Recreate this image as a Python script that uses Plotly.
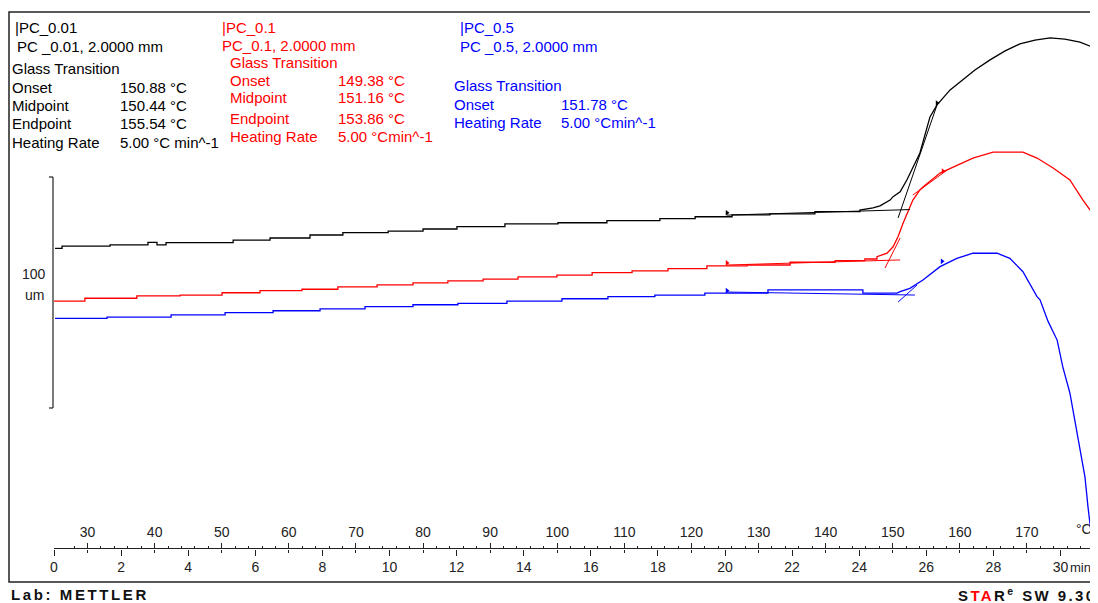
import plotly.graph_objects as go

# ---------------- data (time in min, probe displacement in um) ----------------
black_t = [0.03, 0.24, 0.24, 1.67, 1.67, 2.80, 2.80, 3.07, 3.07, 3.34, 3.34, 5.34, 5.34, 6.44, 6.44,
           7.63, 7.63, 8.61, 8.61, 9.96, 9.96, 11.00, 11.00, 12.01, 12.01, 13.44, 13.44, 15.02, 15.02,
           16.48, 16.48, 18.06, 18.06, 19.11, 19.11, 20.21, 20.21, 21.34, 21.34, 22.68, 22.68, 24.02, 24.02,
           24.41, 24.62, 24.92, 25.01, 25.22, 25.42, 25.81, 26.11, 26.32, 26.71, 27.09, 27.45, 27.90,
           28.35, 28.79, 29.24, 29.69, 30.13, 30.58, 31.03]
black_u = [69.1, 69.1, 70.1, 70.1, 70.6, 70.6, 71.7, 71.7, 70.6, 70.6, 71.6, 71.6, 72.7, 72.7, 73.6,
           73.6, 74.9, 74.9, 75.9, 75.9, 76.6, 76.6, 77.5, 77.5, 78.5, 78.5, 79.7, 79.7, 80.2,
           80.2, 81.1, 81.1, 82.0, 82.0, 82.8, 82.8, 83.6, 83.6, 84.0, 84.0, 85.0, 85.0, 85.7,
           86.6, 87.5, 90.0, 91.5, 93.6, 98.7, 110.4, 126.0, 131.2, 137.7, 142.0, 146.3, 150.7,
           154.6, 157.6, 159.3, 160.2, 159.7, 158.4, 155.8]

red_t = [0.0, 0.92, 0.92, 2.47, 2.47, 3.76, 3.76, 5.01, 5.01, 6.14, 6.14, 7.39, 7.39, 8.46, 8.46,
         9.63, 9.63, 10.70, 10.70, 11.74, 11.74, 12.79, 12.79, 13.83, 13.83, 14.99, 14.99, 16.04, 16.04,
         17.23, 17.23, 18.30, 18.30, 19.46, 19.46, 20.66, 20.66, 21.94, 21.94, 23.28, 23.28, 24.17, 24.17,
         24.53, 24.53, 24.83, 25.01, 25.16, 25.31, 25.60, 25.81, 25.90, 26.41, 26.91, 27.39, 27.99,
         28.88, 29.30, 29.78, 30.28, 30.67, 31.03]
red_u = [46.3, 46.3, 47.5, 47.5, 48.5, 48.5, 48.9, 48.9, 49.9, 49.9, 50.8, 50.8, 51.4, 51.4, 52.4,
         52.4, 53.3, 53.3, 54.2, 54.2, 55.0, 55.0, 55.8, 55.8, 56.8, 56.8, 57.5, 57.5, 58.6,
         58.6, 59.4, 59.4, 60.3, 60.3, 61.5, 61.5, 61.9, 61.9, 63.1, 63.1, 63.8, 63.8, 64.5,
         64.5, 65.5, 67.0, 69.8, 74.2, 80.1, 90.0, 94.4, 95.7, 101.7, 105.2, 108.2, 110.8,
         110.8, 108.2, 103.9, 98.7, 90.0, 82.7]

blue_t = [0.03, 1.58, 1.58, 3.49, 3.49, 5.10, 5.10, 6.53, 6.53, 7.93, 7.93, 9.27, 9.27, 10.70, 10.70,
          12.04, 12.04, 13.50, 13.50, 15.14, 15.14, 16.51, 16.51, 17.91, 17.91, 19.40, 19.40, 21.28, 21.28,
          24.11, 24.11, 25.13, 25.22, 25.51, 25.90, 26.41, 26.91, 27.39, 28.11, 28.49, 28.88, 29.30,
          29.39, 29.63, 29.90, 30.07, 30.28, 30.43, 30.58, 30.73, 30.82, 30.94, 31.03, 31.09]
blue_u = [38.8, 38.8, 39.3, 39.3, 40.3, 40.3, 41.3, 41.3, 42.1, 42.1, 42.9, 42.9, 43.9, 43.9, 44.7,
          44.7, 45.3, 45.3, 46.3, 46.3, 47.3, 47.3, 48.2, 48.2, 48.9, 48.9, 49.7, 49.7, 51.1,
          51.1, 49.7, 49.7, 50.4, 51.8, 55.4, 61.2, 64.8, 67.0, 67.0, 64.8, 59.0, 48.2,
          46.8, 37.5, 29.4, 17.7, 6.5, -5.2, -18.2, -29.9, -42.9, -57.1, -70.1, -75.8]

# evaluation construction lines (baseline / tangents), None separates segments
black_eval_t = [20.06, 25.51, None, 25.16, 26.32]
black_eval_u = [83.5, 85.9, None, 82.3, 131.2]
red_eval_t = [20.06, 25.22, None, 24.77, 25.22, None, 25.60, 26.62]
red_eval_u = [61.9, 64.1, None, 60.6, 73.6, None, 92.2, 103.0]
blue_eval_t = [20.06, 25.66, None, 25.16, 25.72]
blue_eval_u = [50.2, 48.9, None, 45.9, 53.2]

# evaluation limit flags (start / end of each evaluation)
black_flag_t = [20.06, 26.32]
black_flag_u = [84.5, 132.0]
red_flag_t = [20.06, 26.50]
red_flag_u = [62.8, 102.5]
blue_flag_t = [20.06, 26.47]
blue_flag_u = [50.8, 63.5]

# axis ticks
time_ticks = list(range(0, 31, 2))
time_ticktext = [str(v) for v in time_ticks]
time_minor = list(range(1, 30, 2))
temp_ticks = list(range(30, 171, 10))
temp_minor = [v for v in range(28, 179, 2) if v % 10]
T_START = 25.0      # degC at t = 0
RATE = 5.0          # degC / min
SCALE_BAR_UM = 100

# text blocks
black_lines = ["|PC_0.01", "PC _0.01, 2.0000 mm", "Glass Transition"]
black_keys = ["Onset", "Midpoint", "Endpoint", "Heating Rate"]
black_vals = ["150.88 °C", "150.44 °C", "155.54 °C", "5.00 °C min^-1"]
red_lines = ["|PC_0.1", "PC_0.1, 2.0000 mm", "Glass Transition"]
red_keys = ["Onset", "Midpoint", "Endpoint", "Heating Rate"]
red_vals = ["149.38 °C", "151.16 °C", "153.86 °C", "5.00 °Cmin^-1"]
blue_lines = ["|PC_0.5", "PC _0.5, 2.0000 mm", "Glass Transition"]
blue_keys = ["Onset", "Heating Rate"]
blue_vals = ["151.78 °C", "5.00 °Cmin^-1"]

# ---------------- layout geometry ----------------
PAGE_OFF = 8                      # default body margin of the html page
W, H = 1098 - PAGE_OFF, 603 - PAGE_OFF
X0_PX, PX_PER_MIN = 54.0, 33.55   # t=0 position (page px), pixels per minute
Y0_PX, PX_PER_UM = 408.0, 2.31    # u=0 position (page px), pixels per um
AXIS_Y = 548.5
FONT = "Liberation Sans, Arial, sans-serif"
BLACK, RED, BLUE = "#000000", "#ff0000", "#0000ff"
INK = "#222222"

t_lo = (PAGE_OFF - X0_PX) / PX_PER_MIN
t_hi = (PAGE_OFF + W - X0_PX) / PX_PER_MIN
u_lo = (Y0_PX - PAGE_OFF - H) / PX_PER_UM
u_hi = (Y0_PX - PAGE_OFF) / PX_PER_UM


def px(x):
    return (x - PAGE_OFF) / W


def py(y):
    return 1 - (y - PAGE_OFF) / H


fig = go.Figure()
for t, u, c in [(black_t, black_u, BLACK), (red_t, red_u, RED), (blue_t, blue_u, BLUE)]:
    fig.add_trace(go.Scatter(x=t, y=u, mode="lines", line=dict(color=c, width=1.3),
                             showlegend=False, hoverinfo="skip"))
for t, u, c in [(black_eval_t, black_eval_u, BLACK), (red_eval_t, red_eval_u, RED),
                (blue_eval_t, blue_eval_u, BLUE)]:
    fig.add_trace(go.Scatter(x=t, y=u, mode="lines", line=dict(color=c, width=1),
                             connectgaps=False, showlegend=False, hoverinfo="skip"))
for t, u, c in [(black_flag_t, black_flag_u, BLACK), (red_flag_t, red_flag_u, RED),
                (blue_flag_t, blue_flag_u, BLUE)]:
    fig.add_trace(go.Scatter(x=t, y=u, mode="markers",
                             marker=dict(symbol="triangle-right", size=5, color=c, line=dict(width=0)),
                             showlegend=False, hoverinfo="skip"))
fig.add_trace(go.Scatter(x=[T_START], y=[None], xaxis="x2", mode="lines", showlegend=False,
                         hoverinfo="skip"))

ann = []


def txt(x, y, s, color, size=15, anchor="left"):
    ann.append(dict(x=px(x), y=py(y), xref="paper", yref="paper", text=s, showarrow=False,
                    xanchor=anchor, yanchor="middle", font=dict(family=FONT, size=size, color=color)))


# black block
txt(13, 28, black_lines[0], BLACK)
txt(15, 46, black_lines[1], BLACK)
txt(10, 69, black_lines[2], BLACK)
for i, (k, v) in enumerate(zip(black_keys, black_vals)):
    txt(10, 88 + 18 * i, k, BLACK)
    txt(118, 88 + 18 * i, v, BLACK)
# red block
txt(220, 28, red_lines[0], RED)
txt(220, 45, red_lines[1], RED)
txt(228, 62, red_lines[2], RED)
for k, v, yy in zip(red_keys, red_vals, [80, 97, 118, 136]):
    txt(228, yy, k, RED)
    txt(336, yy, v, RED)
# blue block
txt(458, 28, blue_lines[0], BLUE)
txt(458, 46, blue_lines[1], BLUE)
txt(452, 86, blue_lines[2], BLUE)
for i, (k, v) in enumerate(zip(blue_keys, blue_vals)):
    txt(452, 105 + 18 * i, k, BLUE)
    txt(559, 105 + 18 * i, v, BLUE)

# scale bar label
txt(34, 274, str(SCALE_BAR_UM), INK, size=14, anchor="center")
txt(34, 295, "um", INK, size=14, anchor="center")
# axis unit labels
txt(1068, 567, "min", INK, size=13)
txt(1084, 529, "°C", INK, size=14, anchor="center")
# footer
txt(9, 594, "<b><span style='letter-spacing:2.6px'>Lab: METTLER</span></b>", "#111111", size=15)
txt(1098, 594, "<b><span style='letter-spacing:2.4px'>S<span style='color:#ff0000'>TA</span>R"
               "<sup>e</sup> SW 9.30</span></b>", "#111111", size=15, anchor="right")

shapes = [
    # frame
    dict(type="rect", xref="paper", yref="paper", x0=px(9), x1=px(1110), y0=py(582), y1=py(12),
         line=dict(color=INK, width=1.5)),
    # axis line
    dict(type="line", xref="x", yref="paper", x0=0, x1=31.05, y0=py(AXIS_Y), y1=py(AXIS_Y),
         line=dict(color=INK, width=1.2)),
    # scale bar
    dict(type="line", xref="paper", yref="y", x0=px(53), x1=px(53), y0=0, y1=SCALE_BAR_UM,
         line=dict(color=INK, width=1.2)),
    dict(type="line", xref="paper", yref="y", x0=px(49), x1=px(53), y0=0, y1=0,
         line=dict(color=INK, width=1.2)),
    dict(type="line", xref="paper", yref="y", x0=px(49), x1=px(53), y0=SCALE_BAR_UM, y1=SCALE_BAR_UM,
         line=dict(color=INK, width=1.2)),
]

fig.update_layout(
    width=W, height=H, margin=dict(l=0, r=0, t=0, b=0),
    paper_bgcolor="white", plot_bgcolor="white", showlegend=False,
    font=dict(family=FONT, size=14, color=INK),
    xaxis=dict(range=[t_lo, t_hi], anchor="free", position=py(AXIS_Y), side="bottom",
               showline=False, showgrid=False, zeroline=False,
               ticks="outside", ticklen=6, tickwidth=1, tickcolor=INK,
               tickmode="array", tickvals=time_ticks, ticktext=time_ticktext,
               tickfont=dict(family=FONT, size=14, color=INK),
               minor=dict(tickmode="array", tickvals=time_minor, ticks="outside", ticklen=3,
                          tickcolor=INK, showgrid=False)),
    xaxis2=dict(range=[T_START + RATE * t_lo, T_START + RATE * t_hi], overlaying="x",
                anchor="free", position=py(AXIS_Y), side="top",
                showline=False, showgrid=False, zeroline=False,
                ticks="outside", ticklen=6, tickwidth=1, tickcolor=INK,
                tickmode="array", tickvals=temp_ticks,
                tickfont=dict(family=FONT, size=14, color=INK),
                minor=dict(tickmode="array", tickvals=temp_minor, ticks="outside", ticklen=3,
                           tickcolor=INK, showgrid=False)),
    yaxis=dict(range=[u_lo, u_hi], visible=False, showgrid=False, zeroline=False),
    annotations=ann, shapes=shapes,
)

fig.write_html("out.html")
